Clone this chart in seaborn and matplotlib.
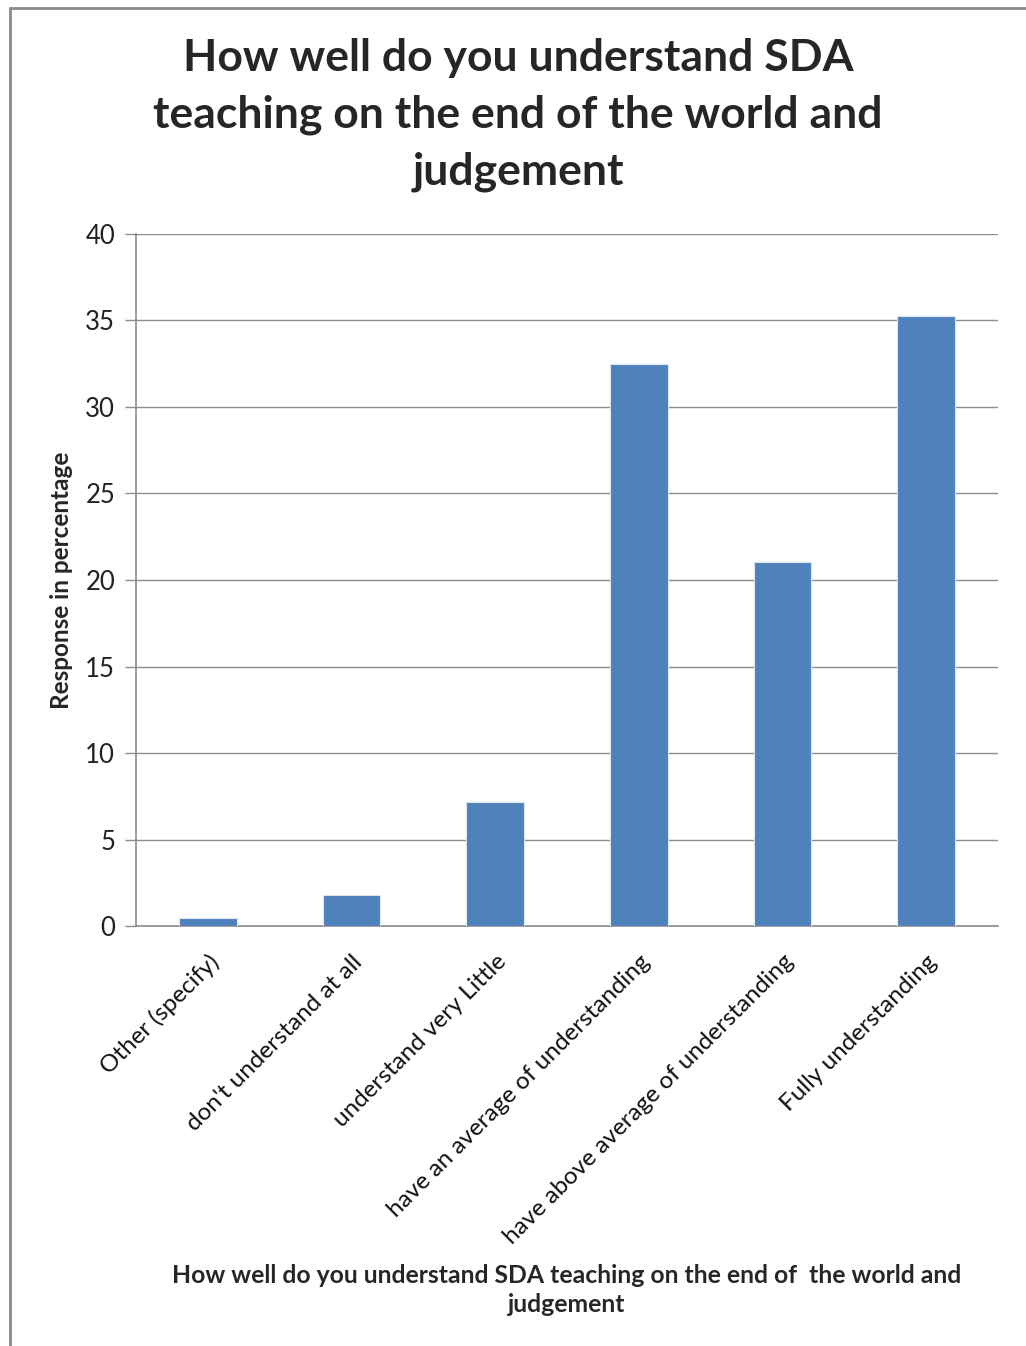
import matplotlib
matplotlib.use("Agg")
import matplotlib.pyplot as plt
import seaborn as sns
import pandas as pd
from matplotlib.lines import Line2D

categories = ["Other (specify)", "don't understand at all", "understand very Little",
              "have an average of understanding", "have above average of understanding",
              "Fully understanding"]
values = [0.46, 1.79, 7.17, 32.5, 21.05, 35.27]
yticks = [0, 5, 10, 15, 20, 25, 30, 35, 40]

sns.set_theme(style="white")
plt.rcParams['font.family'] = ['Lato', 'DejaVu Sans']

df = pd.DataFrame({"cat": categories, "val": values})

fig = plt.figure(figsize=(10.26, 13.46), dpi=100)
ax = fig.add_axes([0.1326, 0.3120, 0.8401, 0.5142])

sns.barplot(data=df, x="cat", y="val", color="#4F81BD", saturation=1, width=0.4,
            edgecolor="#DCE6F2", linewidth=0.8, ax=ax, zorder=3)

ax.set_ylim(0, 40)
ax.set_xlim(-0.5, len(categories) - 0.5)
ax.set_yticks(yticks)
ax.set_yticklabels([str(t) for t in yticks], fontsize=18.5, color="#222222")
ax.yaxis.grid(True, color="#8C8C8C", linewidth=1.0, zorder=0)
ax.set_axisbelow(True)
ax.tick_params(axis="y", length=8, width=1.0, color="#8C8C8C", pad=7, left=True)
ax.tick_params(axis="x", length=0, pad=18)
for s in ["top", "right"]:
    ax.spines[s].set_visible(False)
for s in ["left", "bottom"]:
    ax.spines[s].set_color("#8C8C8C")
    ax.spines[s].set_linewidth(1.2)

ax.set_xticks(range(len(categories)))
ax.set_xticklabels(categories, rotation=45, ha="right", va="top",
                   rotation_mode="anchor", fontsize=17.5, color="#111111")

ax.set_ylabel("Response in percentage", fontsize=17.5, fontweight="bold", labelpad=9)
ax.set_xlabel("")

fig.text(0.505, 0.9715, "How well do you understand SDA\nteaching on the end of the world and\njudgement",
         ha="center", va="top", fontsize=32, fontweight="bold", linespacing=1.5)
fig.text(0.552, 0.0415, "How well do you understand SDA teaching on the end of  the world and\njudgement",
         ha="center", va="center", fontsize=17.8, fontweight="bold", linespacing=1.35)

# outer frame (left and top edges)
fig.add_artist(Line2D([10/1026, 10/1026], [0, 1 - 8/1346], transform=fig.transFigure,
                      color="#8A8A8A", linewidth=2))
fig.add_artist(Line2D([10/1026, 1], [1 - 8/1346, 1 - 8/1346], transform=fig.transFigure,
                      color="#8A8A8A", linewidth=2))

fig.savefig("out.png", dpi=100)
